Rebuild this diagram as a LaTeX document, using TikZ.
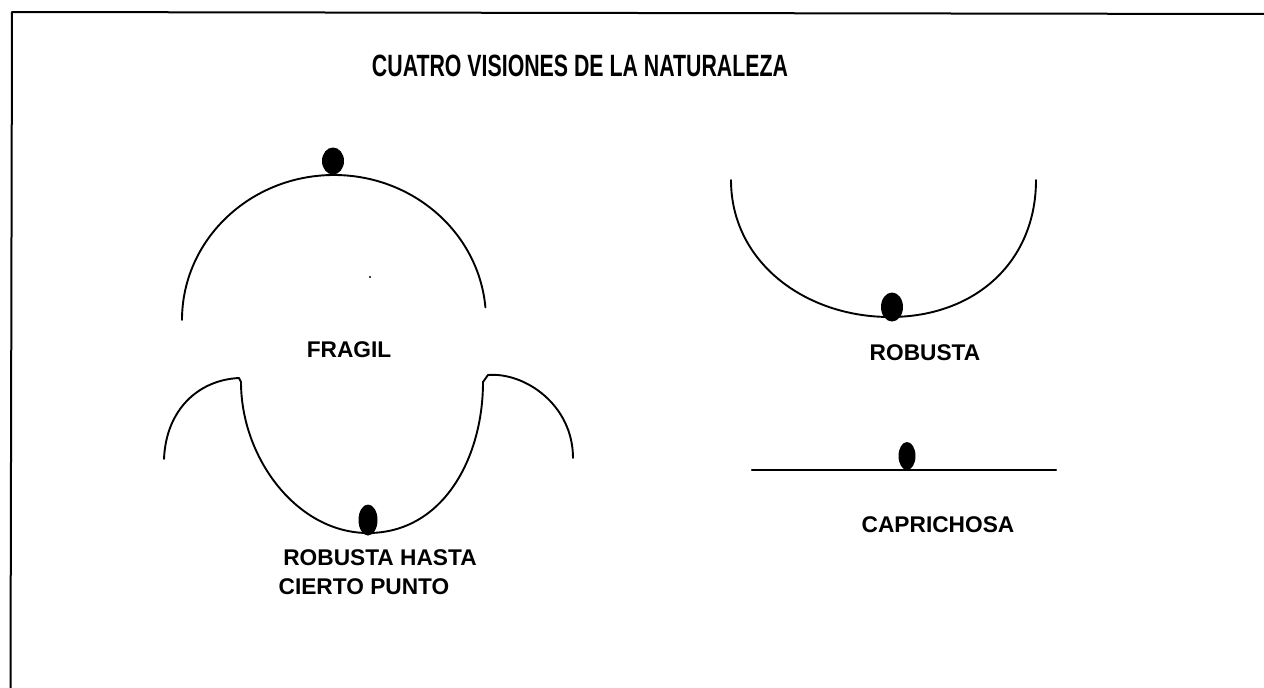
\documentclass[tikz,border=0pt]{standalone}
\usepackage{fontspec}
\setmainfont{Liberation Sans}
\usetikzlibrary{shapes.geometric}
\begin{document}
\begin{tikzpicture}[x=1pt,y=-1pt, line cap=round, line join=round,
  curve/.style={line width=1.9pt},
  ball/.style={fill=black},
  lbl/.style={inner sep=0pt, font=\fontsize{22.7}{26}\selectfont\bfseries}]
\useasboundingbox (0,0) rectangle (1264,688);
% frame (top and left edges)
\draw[line width=2pt] (10.5,688) -- (12,12) -- (1264,14);
% title
\node[inner sep=0pt] (title) at (580,66) {\resizebox{416pt}{21.5pt}{\fontsize{30}{34}\selectfont\bfseries CUATRO VISIONES DE LA NATURALEZA}};
% FRAGIL
\draw[curve] (182,320) arc[start angle=180, end angle=355, x radius=152, y radius=145];
\fill[ball] (333,161) ellipse[x radius=11, y radius=13.5];
\fill (370,277) circle (1.1);
\node[lbl] (fragil) at (349,350) {FRAGIL};
% ROBUSTA
\draw[curve] (731,180) .. controls (731,262) and (805,317) .. (890,317) .. controls (975,317) and (1036,262) .. (1036,180);
\fill[ball] (892,307) ellipse[x radius=11, y radius=14.5];
\node[lbl] (robusta) at (925,353) {ROBUSTA};
% ROBUSTA HASTA CIERTO PUNTO
\draw[curve] (164,459) .. controls (166,410) and (198,380) .. (239,378) -- (241,382)
  .. controls (241,458) and (297,533) .. (368,533)
  .. controls (443,533) and (483,458) .. (483,382) -- (488,375)
  .. controls (525,372) and (573,405) .. (573,458);
\fill[ball] (368,520) ellipse[x radius=9.5, y radius=15.5];
\node[lbl] (hasta) at (380,558) {ROBUSTA HASTA};
\node[lbl] (cierto) at (364,587) {CIERTO PUNTO};
% CAPRICHOSA
\draw[line width=2.2pt] (752,470) -- (1056,470);
\fill[ball] (907,456) ellipse[x radius=8.5, y radius=14];
\node[lbl] (capri) at (938,525) {CAPRICHOSA};
\end{tikzpicture}
\end{document}
